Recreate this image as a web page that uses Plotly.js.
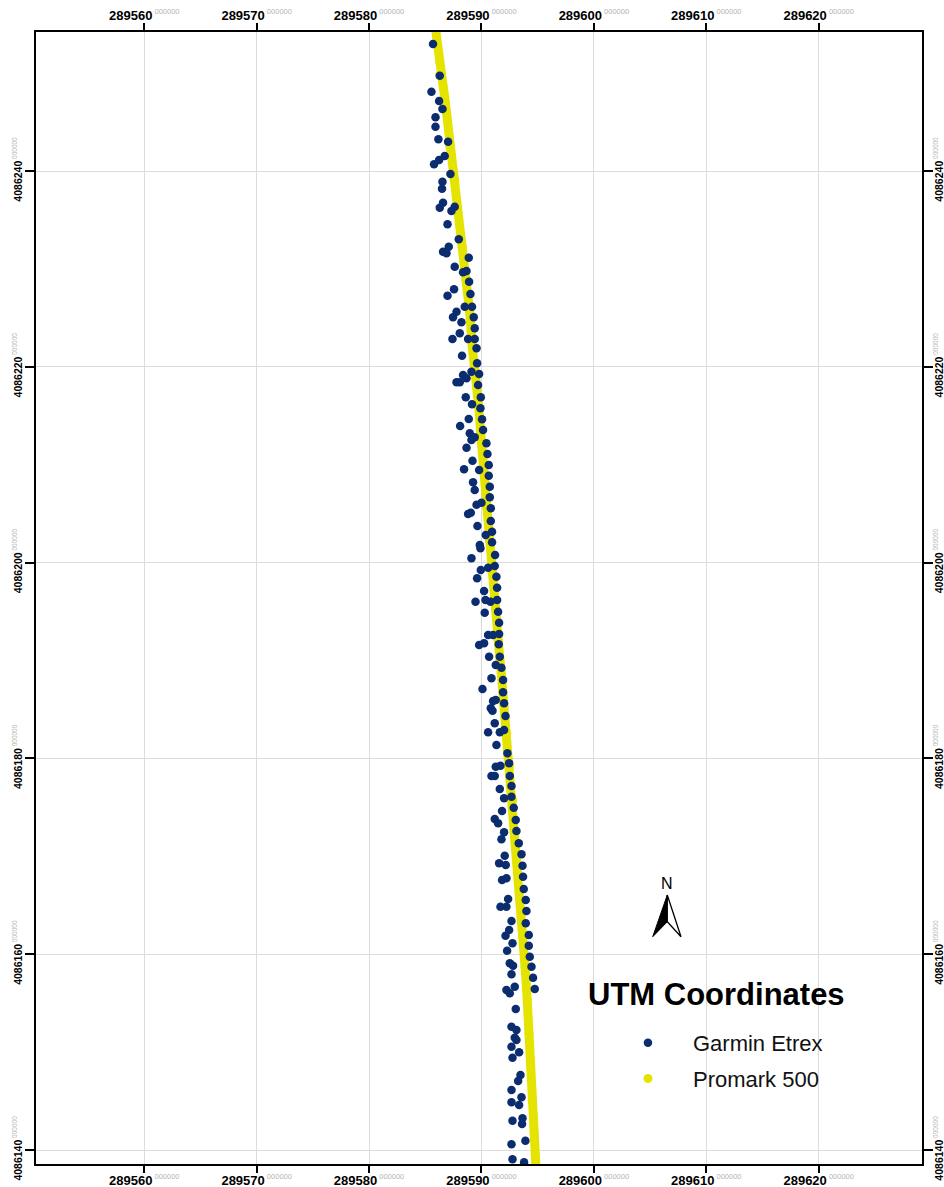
<!DOCTYPE html>
<html><head><meta charset="utf-8">
<script src="https://cdn.plot.ly/plotly-3.0.1.min.js"></script>
<style>html,body{margin:0;padding:0;background:#fff;}#chart{width:944px;height:1187px;}</style>
</head><body><div id="chart"></div>
<script>
// Garmin Etrex points (UTM easting / northing)
const garminX = [289585.69,289586.29,289585.55,289586.23,289586.53,289585.91,289585.91,289586.17,289587.03,289586.73,
289586.23,289585.78,289587.24,289586.53,289586.49,289586.58,289586.29,289587.62,289587.33,289586.98,
289587.98,289587.09,289586.58,289586.89,289588.87,289587.62,289588.67,289588.36,289588.90,289587.56,
289586.98,289589.02,289588.51,289589.16,289587.78,289587.47,289589.31,289588.22,289589.40,289588.07,
289587.42,289588.81,289589.40,289589.56,289588.27,289589.61,289589.11,289589.79,289588.36,289588.67,
289587.78,289588.07,289589.70,289588.60,289589.94,289589.16,289589.91,289588.87,289590.05,289588.10,
289590.14,289588.96,289589.40,289589.11,289588.67,289590.44,289590.53,289589.20,289590.65,289588.45,
289589.79,289590.65,289589.25,289590.74,289589.40,289590.74,289589.56,289590.00,289590.83,289588.81,
289589.05,289590.83,289589.64,289590.38,289590.94,289590.94,289589.85,289589.91,289591.21,289589.11,
289589.94,289590.59,289591.18,289589.61,289591.33,289590.23,289591.39,289589.47,289590.36,289590.80,
289591.39,289591.48,289590.29,289591.57,289590.59,289591.03,289591.57,289589.79,289590.23,289591.54,
289590.68,289591.63,289591.27,289591.78,289590.89,289591.92,289590.09,289591.92,289591.03,289591.27,
289592.01,289590.83,289590.98,289592.14,289591.18,289590.59,289591.63,289592.01,289591.33,289592.31,
289591.27,289591.69,289590.89,289591.18,289592.46,289592.52,289591.63,289592.67,289592.01,289592.67,
289592.87,289591.83,289591.18,289591.48,289593.05,289592.01,289593.11,289591.78,289593.32,289592.07,
289593.56,289591.57,289592.16,289593.65,289591.83,289592.22,289593.70,289593.76,289592.37,289592.22,
289591.69,289593.94,289594.00,289592.67,289593.94,289592.46,289592.14,289594.21,289592.76,289594.21,
289592.28,289594.30,289592.52,289592.81,289592.67,289594.45,289594.59,289592.22,289592.52,289592.96,
289594.74,289593.05,289592.67,289593.11,289592.96,289593.11,289592.67,289593.35,289592.76,289593.47,
289593.26,289592.67,289593.56,289592.67,289593.35,289592.76,289593.65,289593.61,289593.91,289592.67,
289592.76,289593.79];
const garminY = [4086252.97,4086249.73,4086248.10,4086247.15,4086246.33,4086245.49,4086244.52,4086243.24,4086242.99,4086241.53,
4086241.12,4086240.68,4086239.69,4086238.91,4086238.19,4086236.76,4086236.25,4086236.35,4086235.91,4086234.56,
4086233.02,4086232.27,4086231.76,4086231.59,4086231.14,4086230.22,4086229.79,4086229.65,4086228.69,4086227.92,
4086227.26,4086227.44,4086226.14,4086226.14,4086225.63,4086225.06,4086225.06,4086224.55,4086223.93,4086223.42,
4086222.84,4086222.84,4086222.84,4086221.89,4086221.13,4086220.36,4086219.50,4086219.26,4086219.16,4086218.83,
4086218.42,4086218.42,4086218.14,4086216.88,4086216.88,4086216.17,4086215.76,4086214.67,4086214.64,4086213.95,
4086213.54,4086213.21,4086212.80,4086212.52,4086211.74,4086212.19,4086211.09,4086210.41,4086209.97,4086209.53,
4086209.46,4086208.88,4086208.20,4086207.75,4086207.42,4086206.67,4086205.91,4086206.12,4086205.55,4086204.96,
4086205.10,4086204.25,4086203.74,4086202.82,4086203.16,4086202.07,4086201.80,4086201.46,4086200.78,4086200.44,
4086199.24,4086199.48,4086199.65,4086198.40,4086198.56,4086197.10,4086197.44,4086196.01,4086196.18,4086196.01,
4086196.18,4086194.98,4086194.88,4086193.86,4086192.60,4086192.60,4086192.71,4086191.58,4086191.76,4086191.65,
4086190.39,4086190.39,4086189.54,4086189.26,4086188.18,4086188.01,4086187.09,4086186.75,4086185.86,4086185.97,
4086185.63,4086185.12,4086184.87,4086184.33,4086183.59,4086182.67,4086182.67,4086182.90,4086181.37,4086180.52,
4086179.15,4086179.25,4086178.20,4086178.20,4086179.50,4086178.20,4086176.87,4086177.18,4086175.92,4086176.09,
4086174.96,4086174.63,4086173.81,4086173.37,4086173.71,4086172.45,4086172.58,4086171.74,4086171.33,4086170.06,
4086170.20,4086169.28,4086169.11,4086169.04,4086167.58,4086167.75,4086167.92,4086166.66,4086165.64,4086164.85,
4086164.85,4086165.54,4086164.41,4086163.39,4086163.16,4086162.47,4086161.89,4086161.96,4086161.11,4086160.87,
4086160.36,4086159.74,4086159.07,4086158.82,4086157.95,4086158.72,4086157.60,4086156.34,4086156.01,4086156.68,
4086156.45,4086154.40,4086152.59,4086152.26,4086151.47,4086151.24,4086150.55,4086149.98,4086149.43,4086147.66,
4086147.05,4086146.13,4086145.38,4086144.87,4086144.60,4086142.99,4086143.24,4086142.66,4086140.95,4086140.58,
4086139.05,4086138.74];

// Promark 500 track
const promarkX = [289585.93,289586.11,289586.29,289586.29,289586.60,289586.73,289586.91,289587.18,289587.62,289587.89,
289588.29,289588.69,289588.96,289589.18,289589.49,289589.76,289589.98,289590.20,289590.44,289590.69,
289590.94,289591.25,289591.49,289591.76,289592.00,289592.25,289592.47,289592.78,289592.99,289593.23,
289593.43,289593.67,289593.88,289594.07,289594.23,289594.39,289594.54,289594.68,289594.83];
const promarkY = [4086254.40,4086252.67,4086251.13,4086249.81,4086248.58,4086247.56,4086245.92,4086242.45,4086239.08,4086235.71,
4086232.24,4086228.87,4086225.50,4086222.02,4086219.37,4086215.89,4086212.52,4086209.15,4086205.68,4086202.31,
4086198.94,4086195.46,4086192.09,4086188.72,4086185.45,4086182.59,4086179.12,4086175.75,4086172.38,4086168.91,
4086165.54,4086162.17,4086158.69,4086155.32,4086151.95,4086148.48,4086145.11,4086141.74,4086138.67];

const xTickVals = [289560,289570,289580,289590,289600,289610,289620];
const yTickVals = [4086140,4086160,4086180,4086200,4086220,4086240];
const tickDecimals = '000000';
const legendTitle = 'UTM Coordinates';
const seriesNames = ['Garmin Etrex','Promark 500'];

const xRange = [289550.37, 289629.19];
const yRange = [4086138.57, 4086254.2];

function lab(v, sz){
  return '<b>' + v + '</b><sup><span style="color:#b4b4b4;font-size:' + sz + 'px"> ' + tickDecimals + '</span></sup>';
}
const xText = xTickVals.map(v => lab(v, 7.5));
const yText = yTickVals.map(v => lab(v, 6.5));

const FONT = '"Liberation Sans", Arial, sans-serif';
const YEL = '#e4e400';
const BLUE = '#0b2c6e';

const common = {showline:true, linecolor:'#000', linewidth:2, ticks:'outside', tickcolor:'#000', tickwidth:2,
  zeroline:false, fixedrange:true, tickmode:'array', autorange:false};

const xAx = Object.assign({}, common, {range:xRange, tickvals:xTickVals, ticktext:xText, ticklen:7,
  tickfont:{size:13, family:FONT, color:'#000'}, showgrid:true, gridcolor:'#dcdcdc', gridwidth:1});
const yAx = Object.assign({}, common, {range:yRange, tickvals:yTickVals, ticktext:yText, ticklen:9, tickangle:-90,
  tickfont:{size:10.5, family:FONT, color:'#000'}, showgrid:true, gridcolor:'#dcdcdc', gridwidth:1});

const layout = {
  width:944, height:1187,
  margin:{l:36, r:22, t:32, b:23},
  paper_bgcolor:'#fff', plot_bgcolor:'#fff',
  font:{family:FONT, color:'#000'},
  xaxis: Object.assign({}, xAx, {side:'bottom', ticklabelstandoff:-4}),
  xaxis2: Object.assign({}, xAx, {side:'top', overlaying:'x', anchor:'y', showgrid:false, ticklabelstandoff:-2}),
  yaxis: Object.assign({}, yAx, {side:'left', ticklabelstandoff:-1}),
  yaxis2: Object.assign({}, yAx, {side:'right', overlaying:'y', anchor:'x', showgrid:false, ticklabelstandoff:-3}),
  showlegend:true,
  legend:{x:0.6196, xanchor:'left', y:0.1254, yanchor:'top', bgcolor:'rgba(0,0,0,0)', borderwidth:0,
    font:{size:22, family:FONT, color:'#111'},
    itemwidth:80, indentation:18, tracegroupgap:4, traceorder:'grouped'},
  annotations:[
    {xref:'paper', yref:'paper', x:0.7119, y:0.248, text:'N', showarrow:false,
      xanchor:'center', yanchor:'middle', font:{size:16, family:FONT, color:'#000'}},
    {xref:'paper', yref:'paper', x:0.768, y:0.1493, text:'<b>'+legendTitle+'</b>', showarrow:false,
      xanchor:'center', yanchor:'middle', font:{size:31, family:FONT, color:'#000'}}
  ],
  shapes:[
    {type:'path', xref:'paper', yref:'paper', path:'M0.7125,0.2376 L0.6961,0.2008 L0.7125,0.2140 Z',
      fillcolor:'#000', line:{color:'#000', width:1}},
    {type:'path', xref:'paper', yref:'paper', path:'M0.7125,0.2376 L0.7125,0.2140 L0.7280,0.2008 Z',
      fillcolor:'#fff', line:{color:'#000', width:1.3}}
  ]
};

const data = [
  {type:'scatter', mode:'lines', x:promarkX, y:promarkY, line:{color:YEL, width:9}, showlegend:false,
    legendgroup:'p', hoverinfo:'skip'},
  {type:'scatter', mode:'markers', x:promarkX, y:promarkY, name:seriesNames[1], legendgroup:'p', legendrank:2,
    marker:{color:YEL, size:9}},
  {type:'scatter', mode:'markers', x:garminX, y:garminY, name:seriesNames[0], legendgroup:'g', legendrank:1,
    marker:{color:BLUE, size:8.5}},
  {type:'scatter', mode:'markers', x:[], y:[], xaxis:'x2', yaxis:'y2', showlegend:false, hoverinfo:'skip'}
];

Plotly.newPlot('chart', data, layout, {displayModeBar:false, staticPlot:true});
</script></body></html>
